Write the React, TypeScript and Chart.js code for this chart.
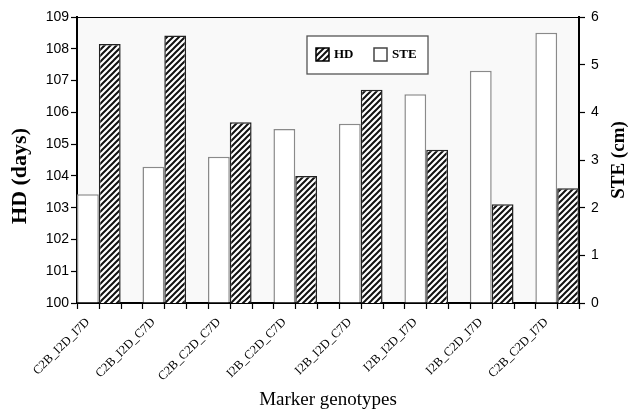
import { useEffect, useRef } from 'react';
import { Chart, registerables } from 'chart.js';

Chart.register(...registerables);

const categories = [
  'C2B_I2D_I7D',
  'C2B_I2D_C7D',
  'C2B_C2D_C7D',
  'I2B_C2D_C7D',
  'I2B_I2D_C7D',
  'I2B_I2D_I7D',
  'I2B_C2D_I7D',
  'C2B_C2D_I7D',
];
const hdValues = [108.15, 108.42, 105.69, 104.0, 106.71, 104.82, 103.11, 103.61];
const steValues = [2.28, 2.86, 3.07, 3.65, 3.76, 4.38, 4.87, 5.67];
const hdLabel = 'HD';
const steLabel = 'STE';
const hdAxisTitle = 'HD (days)';
const steAxisTitle = 'STE (cm)';
const xAxisTitle = 'Marker genotypes';
const hdRange = [100, 109];
const steRange = [0, 6];

function makeHatch(ctx: CanvasRenderingContext2D): CanvasPattern | string {
  const c = document.createElement('canvas');
  c.width = 6;
  c.height = 6;
  const g = c.getContext('2d');
  if (!g) return '#555';
  g.fillStyle = '#ffffff';
  g.fillRect(0, 0, 6, 6);
  g.strokeStyle = '#111111';
  g.lineWidth = 2;
  g.beginPath();
  g.moveTo(-1, 7);
  g.lineTo(7, -1);
  g.moveTo(-1, 1);
  g.lineTo(1, -1);
  g.moveTo(5, 7);
  g.lineTo(7, 5);
  g.stroke();
  return ctx.createPattern(c, 'repeat') || '#555';
}

function drawVerticalTitle(ctx: CanvasRenderingContext2D, text: string, cx: number, cy: number, size: number) {
  ctx.save();
  ctx.translate(cx, cy);
  ctx.rotate(-Math.PI / 2);
  ctx.font = `bold ${size}px "Liberation Serif"`;
  ctx.fillStyle = '#000';
  ctx.textAlign = 'center';
  ctx.textBaseline = 'middle';
  ctx.fillText(text, 0, 0);
  ctx.restore();
}

export default function App() {
  const ref = useRef<HTMLCanvasElement>(null);

  useEffect(() => {
    document.body.style.margin = '0';
    const canvas = ref.current;
    if (!canvas) return;
    const ctx0 = canvas.getContext('2d')!;
    const hatch = makeHatch(ctx0);

    const decor = {
      id: 'decor',
      beforeDraw(chart: any) {
        const { ctx, chartArea: a } = chart;
        ctx.save();
        ctx.fillStyle = '#f9f9f9';
        ctx.fillRect(a.left, a.top, a.right - a.left, a.bottom - a.top);
        ctx.restore();
      },
      afterDraw(chart: any) {
        const { ctx, chartArea: a } = chart;
        const x = chart.scales.x;
        ctx.save();
        // top border
        ctx.strokeStyle = '#000';
        ctx.lineWidth = 1;
        ctx.beginPath();
        ctx.moveTo(a.left, a.top + 0.5);
        ctx.lineTo(a.right, a.top + 0.5);
        ctx.stroke();
        // slot boundary ticks on x axis
        const count = Math.round((x.max - x.min) * 3);
        ctx.beginPath();
        for (let k = 0; k <= count; k++) {
          const px = Math.round(x.getPixelForValue(x.min + k / 3)) + 0.5;
          ctx.moveTo(px, a.bottom);
          ctx.lineTo(px, a.bottom + 6);
        }
        ctx.lineWidth = 1.2;
        ctx.stroke();
        // axis titles (read bottom to top)
        drawVerticalTitle(ctx, hdAxisTitle, 20, (a.top + a.bottom) / 2 + 16, 22);
        drawVerticalTitle(ctx, steAxisTitle, 619, (a.top + a.bottom) / 2, 19);
        // legend
        const lx = a.left + 230;
        const ly = a.top + 19;
        const lw = 121;
        const lh = 38;
        ctx.fillStyle = '#ffffff';
        ctx.fillRect(lx, ly, lw, lh);
        ctx.strokeStyle = '#555';
        ctx.lineWidth = 1.3;
        ctx.strokeRect(lx, ly, lw, lh);
        const items = [
          { label: hdLabel, fill: hatch, stroke: '#000', mx: 9, tx: 27 },
          { label: steLabel, fill: '#ffffff', stroke: '#444', mx: 67, tx: 85 },
        ];
        ctx.font = 'bold 13px "Liberation Serif"';
        ctx.textBaseline = 'middle';
        ctx.textAlign = 'left';
        for (const it of items) {
          ctx.fillStyle = it.fill as any;
          ctx.fillRect(lx + it.mx, ly + 12, 13, 13);
          ctx.strokeStyle = it.stroke;
          ctx.lineWidth = 1.5;
          ctx.strokeRect(lx + it.mx, ly + 12, 13, 13);
          ctx.fillStyle = '#000';
          ctx.fillText(it.label, lx + it.tx, ly + 19);
        }
        ctx.restore();
      },
    };

    const chart = new Chart(canvas, {
      type: 'bar',
      data: {
        datasets: [
          {
            label: steLabel,
            data: steValues.map((v, i) => ({ x: i, y: v })),
            yAxisID: 'y1',
            backgroundColor: '#ffffff',
            borderColor: '#8a8a8a',
            borderWidth: 1.5,
            categoryPercentage: 2 / 3,
            barPercentage: 1,
          },
          {
            label: hdLabel,
            data: hdValues.map((v, i) => ({ x: i, y: v })),
            yAxisID: 'y',
            backgroundColor: hatch as any,
            borderColor: '#222',
            borderWidth: 1.5,
            categoryPercentage: 2 / 3,
            barPercentage: 1,
          },
        ],
      } as any,
      options: {
        animation: false,
        responsive: true,
        maintainAspectRatio: false,
        layout: { padding: { top: 17, left: 0, right: 0, bottom: 0 } },
        plugins: { legend: { display: false }, tooltip: { enabled: false } },
        scales: {
          x: {
            type: 'linear',
            offset: false,
            min: -1 / 3,
            max: categories.length - 1 + 1 / 3,
            afterBuildTicks: (s: any) => {
              s.ticks = categories.map((_, i) => ({ value: i - 1 / 6 }));
            },
            afterFit: (s: any) => {
              s.height = 114;
            },
            ticks: {
              autoSkip: false,
              maxRotation: 45,
              minRotation: 45,
              padding: 4,
              color: '#000',
              font: { family: '"Liberation Serif"', size: 12.5 },
              callback: (_v: any, idx: number) => categories[idx],
            },
            grid: { display: false, offset: false },
            border: { color: '#000', width: 2 },
            title: {
              display: true,
              text: xAxisTitle,
              color: '#000',
              font: { family: '"Liberation Serif"', size: 19 },
              padding: { top: 0, bottom: 6 },
            },
          },
          y: {
            position: 'left',
            min: hdRange[0],
            max: hdRange[1],
            afterFit: (s: any) => {
              s.width = 77;
            },
            ticks: {
              stepSize: 1,
              padding: 2,
              color: '#000',
              font: { family: '"Liberation Sans"', size: 14 },
            },
            grid: { drawOnChartArea: false, color: '#000', tickLength: 6, tickWidth: 1.2 },
            border: { color: '#000', width: 2 },
          },
          y1: {
            position: 'right',
            min: steRange[0],
            max: steRange[1],
            afterFit: (s: any) => {
              s.width = 49;
            },
            ticks: {
              stepSize: 1,
              padding: 6,
              color: '#000',
              font: { family: '"Liberation Sans"', size: 14 },
            },
            grid: { drawOnChartArea: false, color: '#000', tickLength: 6, tickWidth: 1.2 },
            border: { color: '#000', width: 2 },
          },
        },
      } as any,
      plugins: [decor],
    });

    return () => chart.destroy();
  }, []);

  return (
    <div style={{ width: 628, height: 417, position: 'relative' }}>
      <canvas ref={ref} />
    </div>
  );
}
